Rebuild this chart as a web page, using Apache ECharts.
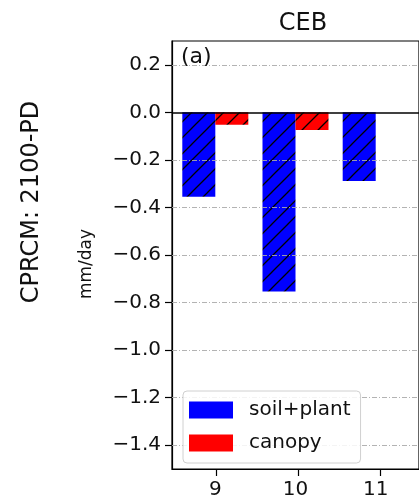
<!DOCTYPE html>
<html>
<head>
<meta charset="utf-8">
<script src="https://cdn.jsdelivr.net/npm/echarts@6/dist/echarts.min.js"></script>
<style>
html,body{margin:0;padding:0;background:#fff;}
#chart{width:419px;height:504px;}
</style>
</head>
<body>
<div id="chart"></div>
<script>
// ---- data ----
const months = [9, 10, 11];
const soilPlant = [-0.355, -0.754, -0.289];
const canopy = [-0.052, -0.074, 0.0];
const yTicks = [-1.4, -1.2, -1.0, -0.8, -0.6, -0.4, -0.2, 0.0, 0.2];
const seriesNames = ['soil+plant', 'canopy'];
const titleText = 'CEB';
const panelText = '(a)';
const rowLabel = 'CPRCM: 2100-PD';
const unitLabel = 'mm/day';

const FONT = 'DejaVu Sans';
const TXT = '#111';
const W = 419, H = 504;
const X_MIN = 8.46, X_MAX = 11.54, Y_MIN = -1.5, Y_MAX = 0.3;
const G = {left: 172, right: -5, top: 41, bottom: 35};
const TICK = 7;

// helper grids carrying only the tick marks, spanning exactly first..last tick
const plotW = W - G.left - G.right, plotH = H - G.top - G.bottom;
const xFrac = v => (v - X_MIN) / (X_MAX - X_MIN);
const yFrac = v => (Y_MAX - v) / (Y_MAX - Y_MIN);
const yT0 = yTicks[0], yT1 = yTicks[yTicks.length - 1];
const xT0 = months[0], xT1 = months[months.length - 1];
const gridYT = {left: G.left, right: G.right,
  top: G.top + yFrac(yT1) * plotH, bottom: H - (G.top + yFrac(yT0) * plotH)};
const gridXT = {left: G.left + xFrac(xT0) * plotW, right: W - (G.left + xFrac(xT1) * plotW),
  top: G.top, bottom: G.bottom};

function hatch(color) {
  const c = document.createElement('canvas');
  c.width = 16; c.height = 16;
  const ctx = c.getContext('2d');
  ctx.fillStyle = color;
  ctx.fillRect(0, 0, 16, 16);
  ctx.strokeStyle = '#000';
  ctx.lineWidth = 1.3;
  ctx.beginPath();
  ctx.moveTo(-4, 20); ctx.lineTo(20, -4);
  ctx.moveTo(-12, 12); ctx.lineTo(12, -12);
  ctx.moveTo(4, 28); ctx.lineTo(28, 4);
  ctx.stroke();
  return c;
}

function fmt(v) {
  const a = Math.abs(v).toFixed(1);
  return v < -1e-9 ? '\u2212' + a : a;
}

const chart = echarts.init(document.getElementById('chart'), null, {renderer: 'canvas'});

const gridLines = yTicks.filter(v => v !== 0).map(v => ({yAxis: v}));
const tickStyle = {show: true, inside: false, length: TICK, lineStyle: {color: '#000', width: 1.2}};
const hiddenAxis = (gi) => ({gridIndex: gi, type: 'value', min: 0, max: 1, show: false});

chart.setOption({
  animation: false,
  backgroundColor: '#fff',
  title: {
    text: titleText,
    left: 298, top: 7,
    textAlign: 'center',
    textStyle: {fontFamily: FONT, fontSize: 24, fontWeight: 'normal', color: TXT}
  },
  grid: [
    Object.assign({show: true, borderColor: '#000', borderWidth: 1.2, backgroundColor: 'transparent'}, G),
    gridYT,
    gridXT
  ],
  xAxis: [
    {
      gridIndex: 0, type: 'value', min: X_MIN, max: X_MAX,
      splitLine: {show: false},
      axisLine: {show: true, onZero: false, lineStyle: {color: '#000', width: 1.2}},
      axisTick: {show: false},
      axisLabel: {customValues: months, fontFamily: FONT, fontSize: 20, color: TXT, margin: 11,
        formatter: v => String(v)}
    },
    hiddenAxis(1),
    {
      gridIndex: 2, type: 'value', min: xT0, max: xT1, interval: 1,
      splitLine: {show: false},
      axisLine: {show: false, onZero: false},
      axisTick: tickStyle,
      axisLabel: {show: false}
    }
  ],
  yAxis: [
    {
      gridIndex: 0, type: 'value', min: Y_MIN, max: Y_MAX,
      splitLine: {show: false},
      axisLine: {show: true, onZero: false, lineStyle: {color: '#000', width: 1.2}},
      axisTick: {show: false},
      axisLabel: {customValues: yTicks, fontFamily: FONT, fontSize: 20, color: TXT, margin: 11,
        formatter: v => fmt(v)}
    },
    {
      gridIndex: 1, type: 'value', min: yT0, max: yT1, interval: 0.2,
      splitLine: {show: false},
      axisLine: {show: false, onZero: false},
      axisTick: tickStyle,
      axisLabel: {show: false}
    },
    hiddenAxis(2)
  ],
  legend: {
    orient: 'vertical',
    left: 183, top: 391,
    padding: [9, 10, 10, 6],
    itemGap: 13,
    itemWidth: 44, itemHeight: 17,
    backgroundColor: 'rgba(255,255,255,0.85)',
    borderColor: '#d0d0d0', borderWidth: 1, borderRadius: 4,
    icon: 'rect',
    z: 10,
    textStyle: {fontFamily: FONT, fontSize: 20, color: TXT, padding: [0, 0, 0, 11], lineHeight: 17},
    data: [
      {name: seriesNames[0], itemStyle: {color: '#0000ff', borderWidth: 0}},
      {name: seriesNames[1], itemStyle: {color: '#ff0000', borderWidth: 0}}
    ]
  },
  series: [
    {
      name: seriesNames[0], type: 'bar', xAxisIndex: 0, yAxisIndex: 0,
      barWidth: 33, barGap: '0%',
      itemStyle: {color: {image: hatch('#0000ff'), repeat: 'repeat'}},
      data: months.map((m, i) => [m, soilPlant[i]])
    },
    {
      name: seriesNames[1], type: 'bar', xAxisIndex: 0, yAxisIndex: 0,
      barWidth: 33, barGap: '0%',
      itemStyle: {color: {image: hatch('#ff0000'), repeat: 'repeat'}},
      data: months.map((m, i) => [m, canopy[i]]),
      markLine: {
        silent: true, symbol: 'none', label: {show: false},
        data: gridLines.map(d => Object.assign({}, d, {lineStyle: {color: '#aaaaaa', width: 0.9, type: [5, 2, 1, 2]}}))
          .concat([{yAxis: 0, lineStyle: {color: '#000', width: 1.6, type: 'solid'}}])
      }
    }
  ],
  graphic: {
    elements: [
      {type: 'text', left: 181, top: 46, z: 20,
        style: {text: panelText, fontFamily: FONT, fontSize: 22, fill: TXT}},
      {type: 'text', x: 32, y: 202, rotation: Math.PI / 2, z: 20,
        style: {text: rowLabel, fontFamily: FONT, fontSize: 24, fill: TXT, align: 'center', verticalAlign: 'middle'}},
      {type: 'text', x: 87, y: 264, rotation: Math.PI / 2, z: 20,
        style: {text: unitLabel, fontFamily: FONT, fontSize: 17, fill: TXT, align: 'center', verticalAlign: 'middle'}}
    ]
  }
});
</script>
</body>
</html>
